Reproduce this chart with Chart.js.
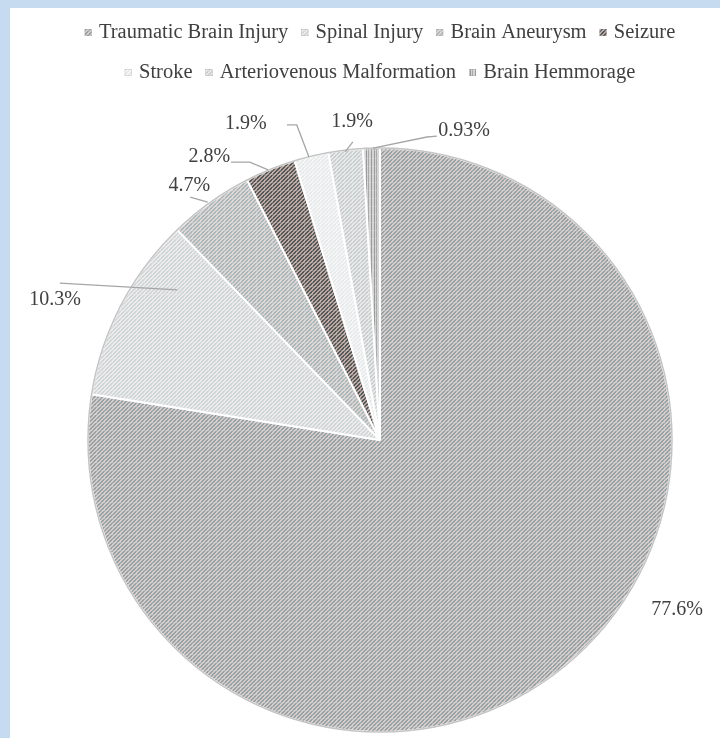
<!DOCTYPE html>
<html>
<head>
<meta charset="utf-8">
<script src="https://cdn.jsdelivr.net/npm/chart.js@4.4.1/dist/chart.umd.min.js"></script>
<style>
  html, body { margin: 0; padding: 0; width: 720px; height: 738px; overflow: hidden; background: #c6dbf0; }
  #panel { position: absolute; left: 10px; top: 8px; width: 710px; height: 730px; background: #ffffff; }
  #chart { position: absolute; left: 0; top: 6px; }
</style>
</head>
<body>
<div id="panel"></div>
<canvas id="chart" width="720" height="778"></canvas>
<script>
// Causes of admission and their share of cases (%)
const categories = [
  'Traumatic Brain Injury',
  'Spinal Injury',
  'Brain Aneurysm',
  'Seizure',
  'Stroke',
  'Arteriovenous Malformation',
  'Brain Hemmorage'
];
const shares = [77.6, 10.3, 4.7, 2.8, 1.9, 1.9, 0.93];
const shareLabels = shares.map(v => v + '%');

// Hatched fills: [base, stripe, vertical stripes?]
const fillSpecs = [
  ['#dbc8c2', '#8ea3aa', false],
  ['#efe8e6', '#cad7db', false],
  ['#e2d3ce', '#a3b9bf', false],
  ['#c2a59d', '#4d585a', false],
  ['#f7f6f6', '#e4e9ea', false],
  ['#ece6e4', '#c2d0d4', false],
  ['#d4d4d4', '#9a9a9a', true]
];

// Callout layout, in polar terms around the pie: [angle clockwise from 12 o'clock, radius factor]
const labelPlacement = [
  { at: [119.8, 1.172], leader: [] },
  { at: [293.3, 1.212], leader: [[296.1, 1.221], [306.5, 0.864]] },
  { at: [323.1, 1.088], leader: [[322.0, 1.056], [324.1, 1.006]] },
  { at: [328.9, 1.132], leader: [[331.8, 1.080], [334.9, 1.051], [337.5, 1.001]] },
  { at: [337.0, 1.175], leader: [[343.55, 1.125], [345.2, 1.116], [345.9, 0.999]] },
  { at: [355.0, 1.093], leader: [[354.8, 1.025], [353.1, 0.994]] },
  { at: [15.2, 1.097], leader: [[10.6, 1.059], [8.8, 1.050], [358.6, 1.0]] }
];

const canvas = document.getElementById('chart');
const ctx = canvas.getContext('2d');

function hatch(base, stripe, vertical) {
  const tile = document.createElement('canvas');
  tile.width = 8; tile.height = 8;
  const g = tile.getContext('2d');
  g.fillStyle = base;
  g.fillRect(0, 0, 8, 8);
  g.fillStyle = stripe;
  for (let y = 0; y < 8; y++) {
    for (let x = 0; x < 8; x++) {
      const on = vertical ? (x % 3 === 0) : ((x + y) % 4 < 2);
      if (on) g.fillRect(x, y, 1, 1);
    }
  }
  g.fillStyle = 'rgba(255,255,255,0.15)';
  g.fillRect(0, 0, 8, 1);
  g.fillRect(0, 0, 1, 8);
  return ctx.createPattern(tile, 'repeat');
}

const fills = fillSpecs.map(([b, s, v]) => hatch(b, s, v));

const SERIF = '"Liberation Serif", "Times New Roman", serif';

// Legend swatches are painted as small hatched squares at each legend entry
const legendSwatches = {
  id: 'legendSwatches',
  afterDraw(chart) {
    const lg = chart.legend;
    if (!lg || !lg.legendHitBoxes) return;
    const c = chart.ctx;
    c.save();
    lg.legendHitBoxes.forEach((hb, i) => {
      const s = 7;
      const x = hb.left;
      const y = hb.top + hb.height / 2 - s / 2;
      c.fillStyle = fills[i];
      c.fillRect(x, y, s, s);
      c.strokeStyle = 'rgba(150,150,150,0.5)';
      c.lineWidth = 0.5;
      c.strokeRect(x + 0.25, y + 0.25, s - 0.5, s - 0.5);
    });
    c.restore();
  }
};

// Percentage callouts with leader lines, plus the pie's outer rim
const callouts = {
  id: 'callouts',
  afterDatasetsDraw(chart) {
    const arcs = chart.getDatasetMeta(0).data;
    if (!arcs.length) return;
    const cx = arcs[0].x, cy = arcs[0].y, R = arcs[0].outerRadius;
    const c = chart.ctx;
    const pt = ([a, f]) => {
      const r = a * Math.PI / 180;
      return [cx + f * R * Math.sin(r), cy - f * R * Math.cos(r)];
    };
    c.save();
    c.beginPath();
    c.arc(cx, cy, R, 0, Math.PI * 2);
    c.strokeStyle = '#c4c4c4';
    c.lineWidth = 1.5;
    c.stroke();

    c.strokeStyle = '#a6a6a6';
    c.lineWidth = 1.3;
    c.font = '20px ' + SERIF;
    c.textAlign = 'center';
    c.textBaseline = 'middle';
    c.fillStyle = '#404040';
    labelPlacement.forEach((p, i) => {
      if (p.leader.length) {
        c.beginPath();
        p.leader.map(pt).forEach(([x, y], k) => (k ? c.lineTo(x, y) : c.moveTo(x, y)));
        c.stroke();
      }
      const [tx, ty] = pt(p.at);
      c.fillText(shareLabels[i], tx, ty);
    });
    c.restore();
  }
};

const baseLabels = Chart.overrides.pie.plugins.legend.labels.generateLabels;

new Chart(ctx, {
  type: 'pie',
  data: {
    labels: categories,
    datasets: [{
      data: shares,
      backgroundColor: fills,
      borderColor: '#ffffff',
      borderWidth: 2,
      hoverOffset: 0,
      radius: 292
    }]
  },
  options: {
    responsive: false,
    animation: false,
    events: [],
    layout: { padding: { left: 50, right: 10, top: 0, bottom: 0 } },
    plugins: {
      tooltip: { enabled: false },
      legend: {
        position: 'top',
        labels: {
          font: { family: SERIF, size: 20.5 },
          color: '#404040',
          boxWidth: 4,
          boxHeight: 27,
          padding: 13,
          generateLabels(chart) {
            return baseLabels(chart).map(item => Object.assign(item, {
              fillStyle: 'rgba(0,0,0,0)',
              strokeStyle: 'rgba(0,0,0,0)',
              lineWidth: 0
            }));
          }
        }
      }
    }
  },
  plugins: [callouts, legendSwatches]
});
</script>
</body>
</html>
